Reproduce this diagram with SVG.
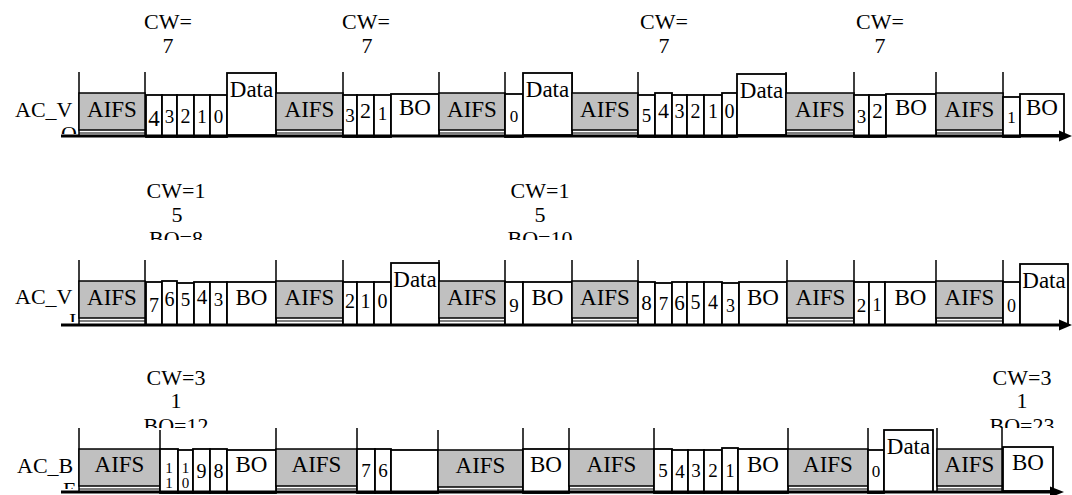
<svg xmlns="http://www.w3.org/2000/svg" width="1072" height="495" viewBox="0 0 1072 495">
<style>
.bg{fill:#fff}
.aifs{fill:#c0c0c0;stroke:#000;stroke-width:1.5}
.box{fill:#fff;stroke:#000;stroke-width:1.8}
.tick{stroke:#000;stroke-width:1.5;fill:none}
.sep{stroke:#000;stroke-width:1.2}
.axis{stroke:#000;stroke-width:3}
.t{font-family:"Liberation Serif","Times New Roman",serif;fill:#000}
.big{font-size:22px}
.lbl{font-size:23px;text-anchor:middle}
.d{text-anchor:middle}
.c{font-size:22px;text-anchor:middle}
</style>
<defs>
<clipPath id="cl1"><rect x="0" y="60" width="80" height="74"/></clipPath>
<clipPath id="cl2"><rect x="0" y="250" width="80" height="72"/></clipPath>
<clipPath id="cl3"><rect x="0" y="420" width="80" height="69"/></clipPath>
<clipPath id="cw2"><rect x="0" y="170" width="1072" height="70"/></clipPath>
<clipPath id="cw3"><rect x="0" y="350" width="1072" height="78"/></clipPath>
</defs>
<rect class="bg" x="0" y="0" width="1072" height="495"/>

<g id="labels">
<g id="cw-r1" class="t c">
<text x="168" y="29">CW=</text><text x="168" y="53">7</text>
<text x="366" y="29">CW=</text><text x="367" y="53">7</text>
<text x="664" y="29">CW=</text><text x="664" y="53">7</text>
<text x="880" y="29">CW=</text><text x="880" y="53">7</text>
</g>
<g id="cw-r2" class="t c" clip-path="url(#cw2)">
<text x="176" y="198">CW=1</text><text x="177" y="222">5</text><text x="176" y="246">BO=8</text>
<text x="540" y="198">CW=1</text><text x="540" y="222">5</text><text x="540" y="246">BO=10</text>
</g>
<g id="cw-r3" class="t c" clip-path="url(#cw3)">
<text x="176" y="385">CW=3</text><text x="176" y="408">1</text><text x="176" y="433">BO=12</text>
<text x="1022" y="385">CW=3</text><text x="1022" y="408">1</text><text x="1022" y="433">BO=23</text>
</g>
<g id="ac-vo"><text class="t big" clip-path="url(#cl1)"><tspan x="15" y="117">AC_V</tspan><tspan x="61" y="141">O</tspan></text></g>
<g id="ac-vi"><text class="t big" clip-path="url(#cl2)"><tspan x="15" y="304">AC_V</tspan><tspan x="69" y="328">I</tspan></text></g>
<g id="ac-be"><text class="t big" clip-path="url(#cl3)"><tspan x="17" y="473">AC_B</tspan><tspan x="63" y="497">E</tspan></text></g>
</g>

<g id="connectors">
<g id="ticks" class="tick">
<path d="M79,72V136M145,72V136M276,72V136M343,72V136M439,72V136M505,72V136M572,72V136M638,72V136M786,72V136M854,72V136M936,72V136M1003,72V136"/>
<path d="M79,260V325M145,260V325M276,260V325M343,260V325M439,260V325M505,260V325M572,260V325M638,260V325M787,260V325M854,260V325M936,260V325M1003,260V325"/>
<path d="M79,428V492M160,430V492M276,428V492M357,428V492M438,430V492M523,428V492M569,428V492M654,428V492M788,428V492M868,428V492M937,428V492M1002,428V492"/>
</g>
</g>

<g id="row1">
<g id="r1-aifs1"><rect class="aifs" x="79" y="93" width="66" height="37"/><line class="sep" x1="79" y1="133" x2="145" y2="133"/><text class="t lbl" x="112" y="117">AIFS</text></g>
<g id="r1-s1"><rect class="box" x="146" y="95" width="16" height="42"/><text class="t d" font-size="23" x="154" y="126">4</text></g>
<g id="r1-s2"><rect class="box" x="162" y="95" width="15" height="42"/><text class="t d" font-size="19" x="169.5" y="123">3</text></g>
<g id="r1-s3"><rect class="box" x="177" y="95" width="17" height="42"/><text class="t d" font-size="20" x="185.5" y="123">2</text></g>
<g id="r1-s4"><rect class="box" x="194" y="95" width="16" height="42"/><text class="t d" font-size="19" x="202" y="123">1</text></g>
<g id="r1-s5"><rect class="box" x="210" y="95" width="17" height="42"/><text class="t d" font-size="19" x="218.5" y="123">0</text></g>
<g id="r1-data1"><rect class="box" x="227" y="73" width="49" height="62"/><text class="t lbl" x="251.5" y="97">Data</text></g>
<g id="r1-aifs2"><rect class="aifs" x="276" y="93" width="67" height="37"/><line class="sep" x1="276" y1="133" x2="343" y2="133"/><text class="t lbl" x="309.5" y="117">AIFS</text></g>
<g id="r1-s6"><rect class="box" x="343" y="95" width="14" height="42"/><text class="t d" font-size="19" x="350" y="122">3</text></g>
<g id="r1-s7"><rect class="box" x="357" y="95" width="17" height="42"/><text class="t d" font-size="22" x="365.5" y="118">2</text></g>
<g id="r1-s8"><rect class="box" x="374" y="95" width="17" height="42"/><text class="t d" font-size="19" x="382.5" y="120">1</text></g>
<g id="r1-bo1"><rect class="box" x="391" y="94" width="48" height="42"/><text class="t lbl" x="415" y="115">BO</text></g>
<g id="r1-aifs3"><rect class="aifs" x="439" y="93" width="66" height="37"/><line class="sep" x1="439" y1="133" x2="505" y2="133"/><text class="t lbl" x="472" y="117">AIFS</text></g>
<g id="r1-s9"><rect class="box" x="505" y="94" width="18" height="43"/><text class="t d" font-size="17" x="514" y="122">0</text></g>
<g id="r1-data2"><rect class="box" x="523" y="73" width="49" height="62"/><text class="t lbl" x="547.5" y="97">Data</text></g>
<g id="r1-aifs4"><rect class="aifs" x="572" y="93" width="66" height="37"/><line class="sep" x1="572" y1="133" x2="638" y2="133"/><text class="t lbl" x="605" y="117">AIFS</text></g>
<g id="r1-s10"><rect class="box" x="638" y="95" width="17" height="42"/><text class="t d" font-size="19" x="646.5" y="122">5</text></g>
<g id="r1-s11"><rect class="box" x="655" y="93" width="17" height="44"/><text class="t d" font-size="22" x="663.5" y="118">4</text></g>
<g id="r1-s12"><rect class="box" x="672" y="95" width="15" height="42"/><text class="t d" font-size="20" x="679.5" y="118">3</text></g>
<g id="r1-s13"><rect class="box" x="687" y="95" width="17" height="42"/><text class="t d" font-size="20" x="695.5" y="118">2</text></g>
<g id="r1-s14"><rect class="box" x="704" y="95" width="18" height="42"/><text class="t d" font-size="20" x="713" y="118">1</text></g>
<g id="r1-s15"><rect class="box" x="722" y="93" width="15" height="44"/><text class="t d" font-size="20" x="729.5" y="118">0</text></g>
<g id="r1-data3"><rect class="box" x="737" y="74" width="49" height="61"/><text class="t lbl" x="761.5" y="98">Data</text></g>
<g id="r1-aifs5"><rect class="aifs" x="786" y="93" width="68" height="37"/><line class="sep" x1="786" y1="133" x2="854" y2="133"/><text class="t lbl" x="820" y="117">AIFS</text></g>
<g id="r1-s16"><rect class="box" x="854" y="95" width="15" height="42"/><text class="t d" font-size="19" x="861.5" y="123">3</text></g>
<g id="r1-s17"><rect class="box" x="869" y="95" width="17" height="42"/><text class="t d" font-size="21" x="877.5" y="118">2</text></g>
<g id="r1-bo2"><rect class="box" x="886" y="94" width="50" height="42"/><text class="t lbl" x="911" y="115">BO</text></g>
<g id="r1-aifs6"><rect class="aifs" x="936" y="93" width="67" height="37"/><line class="sep" x1="936" y1="133" x2="1003" y2="133"/><text class="t lbl" x="969.5" y="117">AIFS</text></g>
<g id="r1-s18"><rect class="box" x="1003" y="97" width="17" height="40"/><text class="t d" font-size="17" x="1011.5" y="123">1</text></g>
<g id="r1-bo3"><rect class="box" x="1020" y="94" width="44" height="41"/><text class="t lbl" x="1042" y="115">BO</text></g>
</g>

<g id="row2">
<g id="r2-aifs1"><rect class="aifs" x="79" y="281" width="66" height="37"/><line class="sep" x1="79" y1="321" x2="145" y2="321"/><text class="t lbl" x="112" y="305">AIFS</text></g>
<g id="r2-s1"><rect class="box" x="146" y="282" width="16" height="43"/><text class="t d" font-size="20" x="154" y="312">7</text></g>
<g id="r2-s2"><rect class="box" x="162" y="281" width="15" height="44"/><text class="t d" font-size="20" x="169.5" y="306">6</text></g>
<g id="r2-s3"><rect class="box" x="177" y="283" width="17" height="42"/><text class="t d" font-size="19" x="185.5" y="306">5</text></g>
<g id="r2-s4"><rect class="box" x="194" y="282" width="16" height="43"/><text class="t d" font-size="21" x="202" y="304">4</text></g>
<g id="r2-s5"><rect class="box" x="210" y="282" width="17" height="43"/><text class="t d" font-size="19" x="218.5" y="306">3</text></g>
<g id="r2-bo1"><rect class="box" x="227" y="282" width="49" height="43"/><text class="t lbl" x="251.5" y="305">BO</text></g>
<g id="r2-aifs2"><rect class="aifs" x="276" y="281" width="67" height="37"/><line class="sep" x1="276" y1="321" x2="343" y2="321"/><text class="t lbl" x="309.5" y="305">AIFS</text></g>
<g id="r2-s6"><rect class="box" x="343" y="282" width="14" height="43"/><text class="t d" font-size="20" x="350" y="308">2</text></g>
<g id="r2-s7"><rect class="box" x="357" y="282" width="17" height="43"/><text class="t d" font-size="20" x="365.5" y="308">1</text></g>
<g id="r2-s8"><rect class="box" x="374" y="282" width="17" height="43"/><text class="t d" font-size="20" x="382.5" y="308">0</text></g>
<g id="r2-data1"><rect class="box" x="391" y="263" width="48" height="62"/><text class="t lbl" x="415" y="287">Data</text></g>
<g id="r2-aifs3"><rect class="aifs" x="439" y="281" width="66" height="37"/><line class="sep" x1="439" y1="321" x2="505" y2="321"/><text class="t lbl" x="472" y="305">AIFS</text></g>
<g id="r2-s9"><rect class="box" x="505" y="282" width="18" height="43"/><text class="t d" font-size="19" x="514" y="312">9</text></g>
<g id="r2-bo2"><rect class="box" x="523" y="282" width="49" height="43"/><text class="t lbl" x="547.5" y="305">BO</text></g>
<g id="r2-aifs4"><rect class="aifs" x="572" y="281" width="66" height="37"/><line class="sep" x1="572" y1="321" x2="638" y2="321"/><text class="t lbl" x="605" y="305">AIFS</text></g>
<g id="r2-s10"><rect class="box" x="638" y="282" width="17" height="43"/><text class="t d" font-size="21" x="646.5" y="310">8</text></g>
<g id="r2-s11"><rect class="box" x="655" y="283" width="17" height="42"/><text class="t d" font-size="19" x="663.5" y="310">7</text></g>
<g id="r2-s12"><rect class="box" x="672" y="282" width="15" height="43"/><text class="t d" font-size="21" x="679.5" y="310">6</text></g>
<g id="r2-s13"><rect class="box" x="687" y="282" width="17" height="43"/><text class="t d" font-size="20" x="695.5" y="309">5</text></g>
<g id="r2-s14"><rect class="box" x="704" y="282" width="18" height="43"/><text class="t d" font-size="20" x="713" y="309">4</text></g>
<g id="r2-s15"><rect class="box" x="722" y="283" width="17" height="42"/><text class="t d" font-size="18" x="730.5" y="312">3</text></g>
<g id="r2-bo3"><rect class="box" x="739" y="282" width="48" height="43"/><text class="t lbl" x="763" y="305">BO</text></g>
<g id="r2-aifs5"><rect class="aifs" x="787" y="281" width="67" height="37"/><line class="sep" x1="787" y1="321" x2="854" y2="321"/><text class="t lbl" x="820.5" y="305">AIFS</text></g>
<g id="r2-s16"><rect class="box" x="854" y="282" width="15" height="43"/><text class="t d" font-size="19" x="861.5" y="312">2</text></g>
<g id="r2-s17"><rect class="box" x="869" y="282" width="16" height="43"/><text class="t d" font-size="18" x="877" y="311">1</text></g>
<g id="r2-bo4"><rect class="box" x="885" y="282" width="51" height="43"/><text class="t lbl" x="910.5" y="305">BO</text></g>
<g id="r2-aifs6"><rect class="aifs" x="936" y="281" width="67" height="37"/><line class="sep" x1="936" y1="321" x2="1003" y2="321"/><text class="t lbl" x="969.5" y="305">AIFS</text></g>
<g id="r2-s18"><rect class="box" x="1003" y="282" width="17" height="43"/><text class="t d" font-size="18" x="1011.5" y="312">0</text></g>
<g id="r2-data2"><rect class="box" x="1020" y="264" width="48" height="61"/><text class="t lbl" x="1044" y="288">Data</text></g>
</g>

<g id="row3">
<g id="r3-aifs1"><rect class="aifs" x="79" y="449" width="81" height="37"/><line class="sep" x1="79" y1="489" x2="160" y2="489"/><text class="t lbl" x="119.5" y="472">AIFS</text></g>
<g id="r3-s1"><rect class="box" x="160" y="449" width="18" height="44"/><text class="t d" font-size="15"><tspan x="169" y="473">1</tspan><tspan x="169" y="488">1</tspan></text></g>
<g id="r3-s2"><rect class="box" x="178" y="450" width="15" height="43"/><text class="t d" font-size="15"><tspan x="185.5" y="473">1</tspan><tspan x="185.5" y="488">0</tspan></text></g>
<g id="r3-s3"><rect class="box" x="193" y="449" width="17" height="44"/><text class="t d" font-size="20" x="201.5" y="478">9</text></g>
<g id="r3-s4"><rect class="box" x="210" y="449" width="17" height="44"/><text class="t d" font-size="20" x="218.5" y="478">8</text></g>
<g id="r3-bo1"><rect class="box" x="227" y="450" width="49" height="43"/><text class="t lbl" x="251.5" y="472">BO</text></g>
<g id="r3-aifs2"><rect class="aifs" x="276" y="449" width="81" height="37"/><line class="sep" x1="276" y1="489" x2="357" y2="489"/><text class="t lbl" x="316.5" y="472">AIFS</text></g>
<g id="r3-s5"><rect class="box" x="357" y="449" width="18" height="44"/><text class="t d" font-size="19" x="366" y="477">7</text></g>
<g id="r3-s6"><rect class="box" x="375" y="449" width="16" height="44"/><text class="t d" font-size="19" x="383" y="477">6</text></g>
<g id="r3-e1"><rect class="box" x="391" y="450" width="47" height="43"/></g>
<g id="r3-aifs3"><rect class="aifs" x="438" y="450" width="85" height="37"/><line class="sep" x1="438" y1="490" x2="523" y2="490"/><text class="t lbl" x="480.5" y="473">AIFS</text></g>
<g id="r3-bo2"><rect class="box" x="523" y="449" width="46" height="44"/><text class="t lbl" x="546" y="472">BO</text></g>
<g id="r3-aifs4"><rect class="aifs" x="569" y="449" width="85" height="37"/><line class="sep" x1="569" y1="489" x2="654" y2="489"/><text class="t lbl" x="611.5" y="472">AIFS</text></g>
<g id="r3-s7"><rect class="box" x="654" y="449" width="18" height="44"/><text class="t d" font-size="19" x="663" y="477">5</text></g>
<g id="r3-s8"><rect class="box" x="672" y="450" width="16" height="43"/><text class="t d" font-size="19" x="680" y="478">4</text></g>
<g id="r3-s9"><rect class="box" x="688" y="450" width="16" height="43"/><text class="t d" font-size="19" x="696" y="477">3</text></g>
<g id="r3-s10"><rect class="box" x="704" y="450" width="18" height="43"/><text class="t d" font-size="19" x="713" y="477">2</text></g>
<g id="r3-s11"><rect class="box" x="722" y="448" width="16" height="45"/><text class="t d" font-size="18" x="730" y="477">1</text></g>
<g id="r3-bo3"><rect class="box" x="738" y="449" width="50" height="44"/><text class="t lbl" x="763" y="472">BO</text></g>
<g id="r3-aifs5"><rect class="aifs" x="788" y="449" width="80" height="37"/><line class="sep" x1="788" y1="489" x2="868" y2="489"/><text class="t lbl" x="828" y="472">AIFS</text></g>
<g id="r3-s12"><rect class="box" x="868" y="450" width="16" height="43"/><text class="t d" font-size="17" x="876" y="477">0</text></g>
<g id="r3-data1"><rect class="box" x="884" y="430" width="49" height="62"/><text class="t lbl" x="908.5" y="454">Data</text></g>
<g id="r3-aifs6"><rect class="aifs" x="937" y="449" width="65" height="37"/><line class="sep" x1="937" y1="489" x2="1002" y2="489"/><text class="t lbl" x="969.5" y="472">AIFS</text></g>
<g id="r3-bo4"><rect class="box" x="1003" y="447" width="50" height="44"/><text class="t lbl" x="1028" y="470">BO</text></g>
</g>

<g id="axes">
<line class="axis" x1="61" y1="136" x2="1064" y2="136"/><polygon points="1059,130.5 1072,136 1059,141.5" fill="#000"/>
<line class="axis" x1="61" y1="325" x2="1064" y2="325"/><polygon points="1059,319.5 1072,325 1059,330.5" fill="#000"/>
<line class="axis" x1="61" y1="492" x2="1054" y2="492"/><polygon points="1050,486.5 1064,492 1050,497.5" fill="#000"/>
</g>
</svg>
